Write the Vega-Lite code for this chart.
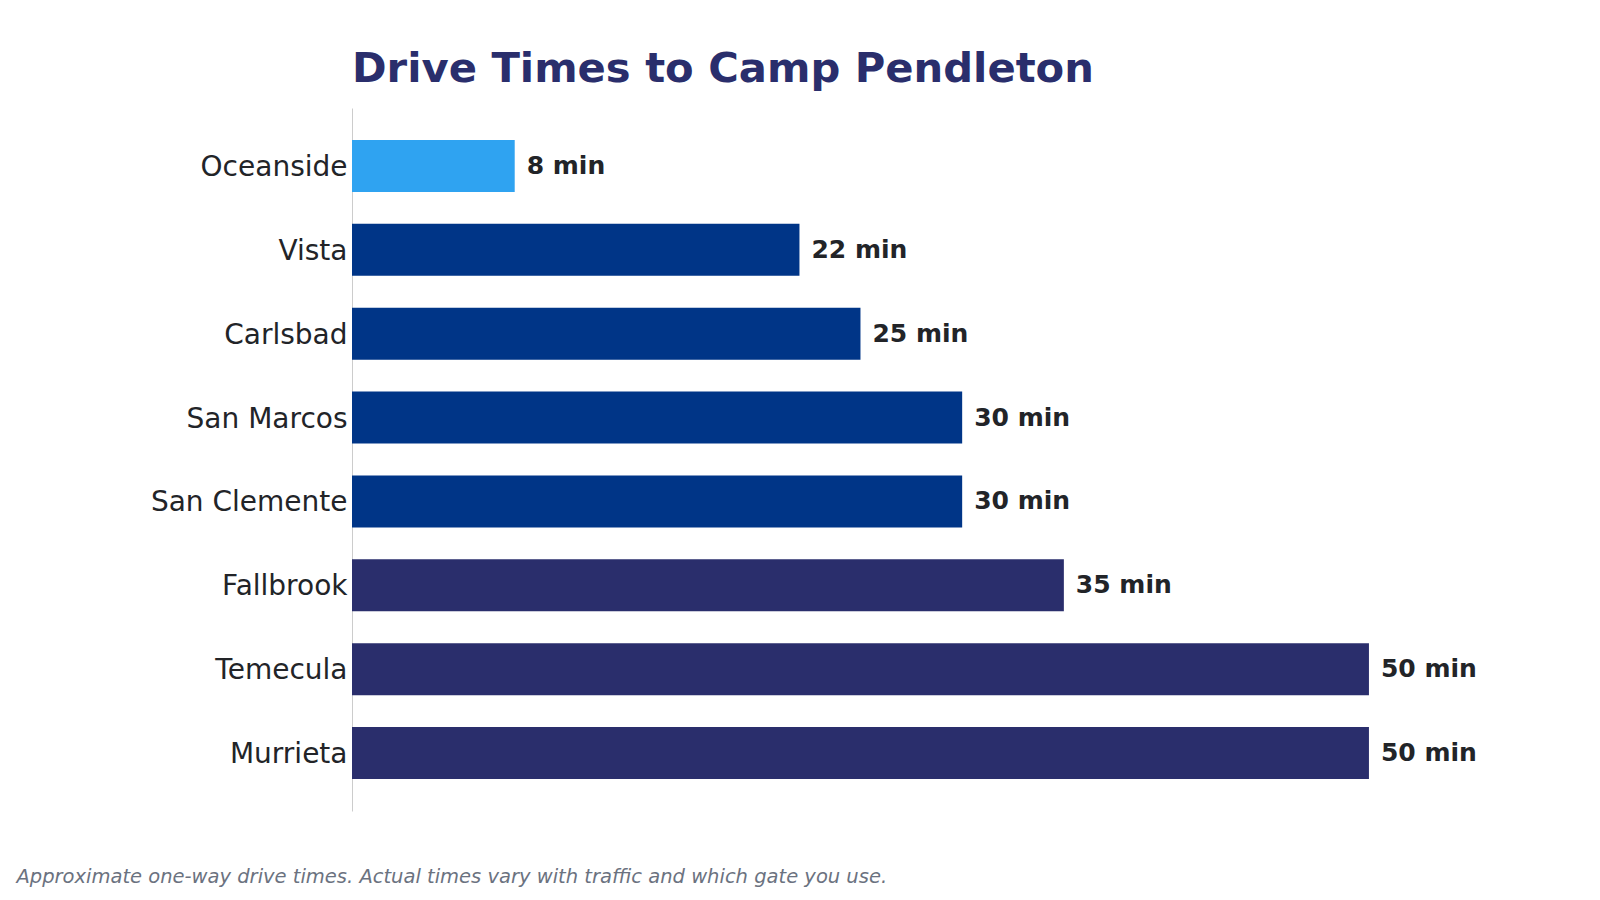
{
  "$schema": "https://vega.github.io/schema/vega-lite/v6.json",
  "autosize": "none",
  "width": 1200,
  "height": 703,
  "padding": {"left": 352, "top": 108, "right": 48, "bottom": 89},
  "background": "#ffffff",
  "config": {
    "view": {"stroke": null},
    "font": "DejaVu Sans"
  },
  "title": {
    "text": "Drive Times to Camp Pendleton",
    "anchor": "start",
    "frame": "group",
    "font": "DejaVu Sans",
    "fontSize": 41.7,
    "fontWeight": "bold",
    "color": "#2a2e6c",
    "baseline": "alphabetic",
    "offset": -16
  },
  "data": {
    "values": [
      {"city": "Oceanside", "minutes": 8, "tier": "Under 15 min"},
      {"city": "Vista", "minutes": 22, "tier": "15–30 min"},
      {"city": "Carlsbad", "minutes": 25, "tier": "15–30 min"},
      {"city": "San Marcos", "minutes": 30, "tier": "15–30 min"},
      {"city": "San Clemente", "minutes": 30, "tier": "15–30 min"},
      {"city": "Fallbrook", "minutes": 35, "tier": "Over 30 min"},
      {"city": "Temecula", "minutes": 50, "tier": "Over 30 min"},
      {"city": "Murrieta", "minutes": 50, "tier": "Over 30 min"}
    ]
  },
  "transform": [
    {"calculate": "datum.minutes + ' min'", "as": "label"}
  ],
  "encoding": {
    "y": {
      "field": "city",
      "type": "nominal",
      "sort": ["Oceanside", "Vista", "Carlsbad", "San Marcos", "San Clemente", "Fallbrook", "Temecula", "Murrieta"],
      "scale": {"paddingInner": 0.38, "paddingOuter": 0.38},
      "axis": {
        "title": null,
        "ticks": false,
        "grid": false,
        "domain": true,
        "domainColor": "#cccccc",
        "domainWidth": 1,
        "labelFont": "DejaVu Sans",
        "labelFontSize": 28,
        "labelColor": "#222428",
        "labelPadding": 5,
        "labelOffset": 2,
        "labelLimit": 400
      }
    },
    "x": {
      "field": "minutes",
      "type": "quantitative",
      "scale": {"domain": [0, 59], "nice": false, "zero": true},
      "axis": {
        "title": "Approximate one-way drive times. Actual times vary with traffic and which gate you use.",
        "titleFont": "DejaVu Sans",
        "titleFontSize": 19.5,
        "titleFontStyle": "italic",
        "titleFontWeight": "normal",
        "titleColor": "#6b7280",
        "titleAnchor": "start",
        "titleAlign": "left",
        "titleBaseline": "alphabetic",
        "titleX": -336,
        "titleY": 71,
        "labels": false,
        "ticks": false,
        "domain": false,
        "grid": false
      }
    }
  },
  "layer": [
    {
      "mark": {"type": "bar"},
      "encoding": {
        "color": {
          "field": "tier",
          "type": "nominal",
          "scale": {
            "domain": ["Under 15 min", "15–30 min", "Over 30 min"],
            "range": ["#2fa3f1", "#003587", "#2a2e6c"]
          },
          "legend": null
        }
      }
    },
    {
      "mark": {
        "type": "text",
        "align": "left",
        "baseline": "middle",
        "dx": 12,
        "font": "DejaVu Sans",
        "fontSize": 25,
        "fontWeight": "bold",
        "color": "#222428"
      },
      "encoding": {
        "text": {"field": "label", "type": "nominal"}
      }
    }
  ]
}
